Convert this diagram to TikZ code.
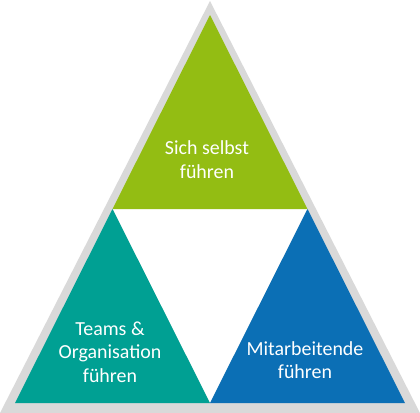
\documentclass[tikz,border=0pt]{standalone}
\usepackage{fontspec}
\setmainfont{Carlito}
\definecolor{frameGray}{HTML}{D9D9D9}
\definecolor{topGreen}{HTML}{93BD13}
\definecolor{leftTeal}{HTML}{00A093}
\definecolor{rightBlue}{HTML}{0B6FB5}
\tikzset{
  piece/.style={draw=none},
  lbl/.style={text=white, anchor=base, inner sep=0pt, font=\fontsize{20}{24}\selectfont}
}
\begin{document}
\begin{tikzpicture}[x=1bp,y=-1bp]
\useasboundingbox (0,0) rectangle (420,413);
% outer frame
\fill[frameGray] (0,413) -- (420,413) -- (210,1) -- cycle;
% corner points of inner triangle
\coordinate (A) at (210,15);
\coordinate (B) at (15,403);
\coordinate (C) at (405,403);
\coordinate (AB) at (112.5,209);
\coordinate (AC) at (307.5,209);
\coordinate (BC) at (210,403);
\fill[white] (AB) -- (AC) -- (BC) -- cycle;
\fill[topGreen] (A) -- (AB) -- (AC) -- cycle;
\fill[leftTeal] (AB) -- (B) -- (BC) -- cycle;
\fill[rightBlue] (AC) -- (BC) -- (C) -- cycle;
% labels
\node[lbl] (t1) at (207,154) {Sich selbst};
\node[lbl] (t2) at (207,178) {führen};
\node[lbl] (l1) at (110,335) {Teams \&};
\node[lbl] (l2) at (110,358.5) {Organisation};
\node[lbl] (l3) at (110,382) {führen};
\node[lbl] (r1) at (305,355) {Mitarbeitende};
\node[lbl] (r2) at (305,378.5) {führen};
\end{tikzpicture}
\end{document}
